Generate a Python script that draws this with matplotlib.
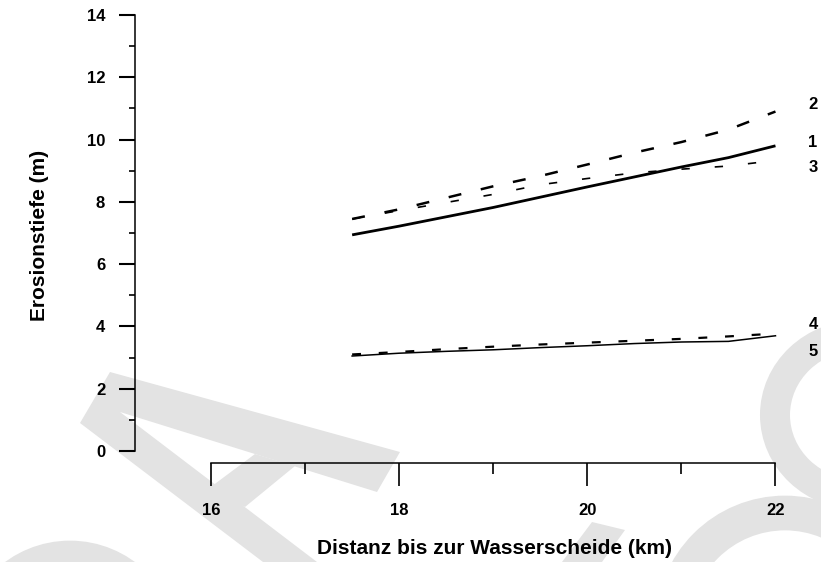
import matplotlib
matplotlib.use("Agg")
import matplotlib.pyplot as plt
from matplotlib.patches import Polygon, Ellipse, Circle

plt.rcParams['font.family'] = ['Liberation Sans', 'DejaVu Sans']

# distance from the divide (km) and erosion depth (m) per curve
x_km = [17.5, 18.0, 18.5, 19.0, 19.5, 20.0, 20.5, 21.0, 21.5, 22.0]
curve1 = [6.94, 7.22, 7.52, 7.82, 8.15, 8.48, 8.80, 9.12, 9.42, 9.80]
curve2 = [7.45, 7.76, 8.13, 8.50, 8.83, 9.20, 9.58, 9.92, 10.32, 10.90]
curve3 = [7.45, 7.72, 7.98, 8.24, 8.55, 8.75, 8.93, 9.05, 9.15, 9.33]
curve4 = [3.10, 3.18, 3.27, 3.35, 3.42, 3.48, 3.54, 3.60, 3.68, 3.77]
curve5 = [3.05, 3.14, 3.20, 3.25, 3.32, 3.38, 3.45, 3.50, 3.52, 3.70]
curve_names = ["1", "2", "3", "4", "5"]
name_y = [9.89, 11.14, 9.09, 4.05, 3.18]

xticks = [16, 18, 20, 22]
yticks = [0, 2, 4, 6, 8, 10, 12, 14]

fig = plt.figure(figsize=(8.21, 5.62), dpi=100)

# light grey watermark behind the plot (pixel coords)
bg = fig.add_axes([0, 0, 1, 1], zorder=0)
bg.set_xlim(0, 821)
bg.set_ylim(562, 0)
bg.axis('off')
wm = '#e3e3e3'
bg.add_patch(Polygon([(80, 423), (110, 372), (400, 452), (377, 492), (120, 412),
                      (317, 562), (263, 562)], closed=True, fc=wm, ec='none'))
bg.add_patch(Polygon([(208, 489), (255, 454), (295, 466), (245, 507)], closed=True, fc=wm, ec='none'))
bg.add_patch(Polygon([(562, 562), (592, 522), (625, 530), (602, 562)], closed=True, fc=wm, ec='none'))
bg.add_patch(Ellipse((860, 415), 170, 160, fill=False, ec=wm, lw=21.6))
bg.add_patch(Circle((785, 625), 112, fill=False, ec=wm, lw=25))
bg.add_patch(Circle((70, 650), 92, fill=False, ec=wm, lw=25))

ax = fig.add_axes([135/821, 1 - 451/562, 659/821, 436/562], zorder=1)
ax.set_facecolor('none')

ax.plot(x_km, curve1, color='black', lw=2.0, solid_capstyle='butt')
ax.plot(x_km, curve2, color='black', lw=1.8, dashes=(5.2, 8))
ax.plot(x_km, curve3, color='black', lw=1.2, dashes=(5, 15))
ax.plot(x_km, curve4, color='black', lw=1.6, dashes=(4, 8))
ax.plot(x_km, curve5, color='black', lw=1.1)

for name, yy in zip(curve_names, name_y):
    ax.text(22.4, yy, name, ha='center', va='center', fontsize=12,
            fontweight='bold', clip_on=False)

ax.set_xlim(15.192, 22.197)
ax.set_ylim(0, 14)

for s in ['top', 'right']:
    ax.spines[s].set_visible(False)
ax.spines['left'].set_bounds(0, 14)
ax.spines['bottom'].set_bounds(16, 22)
ax.spines['bottom'].set_position(('outward', 8.6))
ax.spines['left'].set_linewidth(1.1)
ax.spines['bottom'].set_linewidth(1.1)

ax.set_xticks(xticks)
ax.set_xticks([17, 19, 21], minor=True)
ax.set_yticks(yticks)
ax.set_yticks([1, 3, 5, 7, 9, 11, 13], minor=True)
ax.tick_params(axis='y', which='major', length=11.5, width=1.5, pad=10, labelsize=12)
ax.tick_params(axis='y', which='minor', length=4, width=1.2)
ax.tick_params(axis='x', which='major', length=16.5, width=1.2, pad=12, labelsize=12)
ax.tick_params(axis='x', which='minor', length=8, width=1.2)
for lab in ax.get_xticklabels() + ax.get_yticklabels():
    lab.set_fontweight('bold')

fig.text(40/821, 1 - 235/562, 'Erosionstiefe (m)', rotation=90, ha='center', va='center',
         fontsize=15, fontweight='bold')
fig.text(494/821, 1 - 548/562, 'Distanz bis zur Wasserscheide (km)', ha='center', va='center',
         fontsize=15, fontweight='bold')

fig.savefig('out.png', dpi=100)
